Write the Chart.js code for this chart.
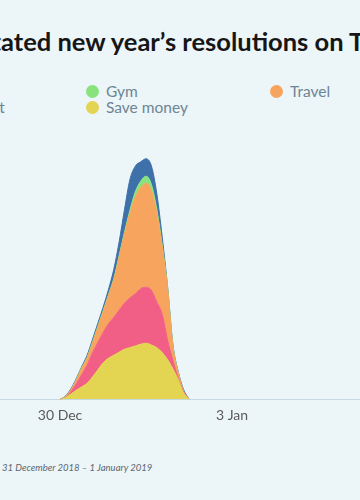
<!DOCTYPE html>
<html>
<head>
<meta charset="utf-8">
<script src="https://cdn.jsdelivr.net/npm/chart.js@4.4.1/dist/chart.umd.min.js"></script>
<style>
  html, body { margin: 0; padding: 0; }
  body {
    width: 360px; height: 500px; overflow: hidden; position: relative;
    background: #ecf5f8; font-family: Lato, "Noto Sans", sans-serif;
  }
  #title {
    position: absolute; left: 1px; top: 26px;
    font-size: 25.5px; font-weight: 700; color: #161616; white-space: nowrap;
  }
  #title .pre { position: absolute; right: 100%; }
  #legend {
    position: absolute; left: -96px; top: 83px;
    display: grid; grid-template-columns: 182px 184px 184px;
    grid-template-rows: 16px 16px; grid-auto-flow: column;
  }
  .item { display: flex; align-items: center; font-size: 15.5px; color: #6d8595; white-space: nowrap; }
  .dot { width: 13px; height: 13px; border-radius: 50%; margin-right: 7px; flex: none; }
  #chart-box { position: absolute; left: 0; top: 123px; width: 360px; height: 309px; }
  #note {
    position: absolute; left: 2px; top: 462px;
    font-size: 9.5px; font-style: italic; color: #5b6770; white-space: nowrap;
  }
</style>
</head>
<body>
<div id="title"><span class="pre">Most st</span>ated new year’s resolutions on T<span>witter</span></div>
<div id="legend"></div>
<div id="chart-box"><canvas id="chart" width="360" height="309"></canvas></div>
<div id="note">31 December 2018 – 1 January 2019</div>

<script>
Chart.defaults.font.family = "Lato";
Chart.defaults.animation = false;

// Hours since 30 Dec 00:00
const hours = [0, 3, 6, 9, 12, 15, 18, 21, 24, 27, 30, 33, 36, 39, 42, 45, 48, 51, 54, 57, 60, 63, 66, 69, 72];

const saveMoney = [0, 1.5, 5, 8.7, 12, 15.3, 21.5, 28.4, 35.4, 40, 43, 46, 48.8, 50.4, 52, 53.7, 54.7, 53, 50.4, 45.6, 38.8, 29.6, 18.7, 6, 0];
const loseWeight = [0, 0, 2, 6.3, 12, 17.7, 23.5, 26.6, 29.6, 33.5, 37, 41, 45.2, 48.6, 51, 54.3, 54.8, 53.5, 44.6, 37.4, 19.2, 8.4, 1.3, 1, 0];
const travel = [0, 1, 2, 3.5, 6, 7, 9.3, 14.7, 20.2, 27.5, 37, 52, 67.6, 82.7, 94.8, 99, 101.5, 97.5, 87, 66, 50.5, 13.8, 5.2, 0.7, 0];
const gym = [0, 0, 0, 0.5, 0.5, 0.5, 1, 1, 1, 1, 1, 1.5, 2, 3, 5, 6, 7, 6, 4, 2, 1, 0.5, 0.5, 0, 0];
const readMore = [0, 0.5, 1, 1, 1, 2, 2.5, 3, 3.5, 5, 9, 13.5, 22, 30, 25, 19, 17, 18, 15, 8, 1, 1, 1, 1.5, 0];

// Bottom to top of the stack.
const seriesNames = ["Save money", "Lose weight", "Travel", "Gym", "Read more"];
const seriesValues = [saveMoney, loseWeight, travel, gym, readMore];
const seriesColors = ["#e3d452", "#f25f86", "#f7a55e", "#88e37f", "#3e70a9"];
const legendOrder = ["Read more", "Lose weight", "Gym", "Save money", "Travel"];

const tickHours = [0, 96];
const tickLabels = ["30 Dec", "3 Jan"];

// Legend
const legendDiv = document.getElementById("legend");
legendOrder.forEach((name) => {
  const i = seriesNames.indexOf(name);
  const item = document.createElement("div");
  item.className = "item";
  item.innerHTML = `<span class="dot" style="background:${seriesColors[i]}"></span>${name}`;
  legendDiv.appendChild(item);
});

const datasets = seriesNames.map((name, i) => ({
  label: name,
  data: hours.map((h, j) => ({ x: h, y: seriesValues[i][j] })),
  backgroundColor: seriesColors[i],
  borderColor: seriesColors[i],
  borderWidth: 1,
  pointRadius: 0,
  fill: i === 0 ? "origin" : "-1",
  cubicInterpolationMode: "monotone",
}));

new Chart(document.getElementById("chart"), {
  type: "line",
  data: { datasets: datasets },
  options: {
    responsive: false,
    plugins: { legend: { display: false }, tooltip: { enabled: false } },
    layout: { padding: 0 },
    scales: {
      x: {
        type: "linear",
        min: -33.5,
        max: 167.4,
        grid: { display: false, drawTicks: false },
        border: { display: true, color: "#c8d9e3", width: 1 },
        afterBuildTicks: (axis) => {
          axis.ticks = tickHours.map((v) => ({ value: v }));
        },
        ticks: {
          padding: 8,
          color: "#5a5a5a",
          font: { size: 14 },
          maxRotation: 0,
          callback: (v) => tickLabels[tickHours.indexOf(v)],
        },
      },
      y: {
        display: false,
        stacked: true,
        min: 0,
        max: 270,
      },
    },
  },
});
</script>
</body>
</html>
